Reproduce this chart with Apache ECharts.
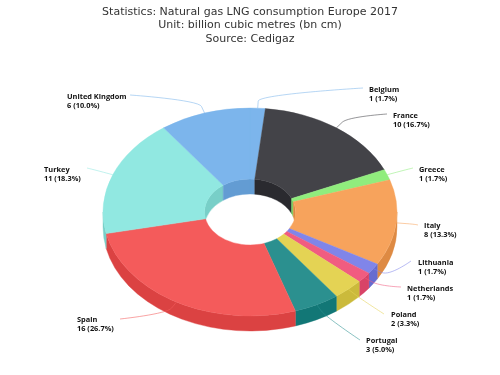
<!DOCTYPE html>
<html>
<head>
<meta charset="utf-8">
<style>
html, body { margin: 0; padding: 0; background: #fff; }
#chart { width: 500px; height: 375px; }
</style>
<script src="https://cdn.jsdelivr.net/npm/echarts@6/dist/echarts.min.js"></script>
</head>
<body>
<div id="chart"></div>
<script>
var title_text = 'Statistics: Natural gas LNG consumption Europe 2017\nUnit: billion cubic metres (bn cm)\nSource: Cedigaz';

var countries = ['Belgium', 'France', 'Greece', 'Italy', 'Lithuania', 'Netherlands', 'Poland', 'Portugal', 'Spain', 'Turkey', 'United Kingdom'];
var consumption = [1, 10, 1, 8, 1, 1, 2, 3, 16, 11, 6];
var colors = ['#7cb5ec', '#434348', '#90ed7d', '#f7a35c', '#8085e9', '#f15c80', '#e4d354', '#2b908f', '#f45b5b', '#91e8e1', '#7cb5ec'];
var side_colors = ['#639cd3', '#2a2a2f', '#77d464', '#de8a43', '#676cd0', '#d84367', '#cbba3b', '#127776', '#db4242', '#78cfc8', '#639cd3'];

// where each label block starts (left edge, middle of first line) and where its connector starts
var label_pos = [[369, 90], [393, 116], [419, 170], [424, 226], [418, 263], [407, 289], [391, 315], [366, 341], [77, 320], [44, 170], [67, 97]];
var connector_start = [[363, 88], [387, 114], [413, 168], [418, 225], [411, 261], [401, 287], [384, 314], [360, 340], [120, 319], [87, 168], [130, 95]];

// tilted ring, ECharts has no 3d pie so the ellipse is worked out here
var cx = 250, cy = 212, rx = 147, ry = 104, inner_rx = 45.5, inner_ry = 33, depth = 15;

var total = consumption.reduce(function (a, b) { return a + b; }, 0);
var start_angles = [];
var sum = 0;
for (var i = 0; i < consumption.length; i++) {
    start_angles[i] = sum / total * 360;
    sum += consumption[i];
}

function point(a, b, angle, dy) {
    var t = angle * Math.PI / 180;
    return [cx + a * Math.sin(t), cy - b * Math.cos(t) + dy];
}

function arc_to(a, b, p, sweep) {
    return 'A' + a + ' ' + b + ' 0 0 ' + sweep + ' ' + p[0] + ' ' + p[1];
}

function top_face(a0, a1) {
    var p0 = point(rx, ry, a0, 0), p1 = point(rx, ry, a1, 0);
    var q1 = point(inner_rx, inner_ry, a1, 0), q0 = point(inner_rx, inner_ry, a0, 0);
    return 'M' + p0.join(' ') + arc_to(rx, ry, p1, 1) + 'L' + q1.join(' ') + arc_to(inner_rx, inner_ry, q0, 0) + 'Z';
}

function wall(a, b, a0, a1) {
    var p0 = point(a, b, a0, 0), p1 = point(a, b, a1, 0);
    var q1 = point(a, b, a1, depth), q0 = point(a, b, a0, depth);
    return 'M' + p0.join(' ') + arc_to(a, b, p1, 1) + 'L' + q1.join(' ') + arc_to(a, b, q0, 0) + 'Z';
}

function render_slice(params) {
    var i = params.dataIndex;
    var a0 = start_angles[i];
    var a1 = a0 + consumption[i] / total * 360;
    var mid = (a0 + a1) / 2;
    var children = [];

    function add_wall(a, b, from, to) {
        if (to <= from) return;
        children.push({
            type: 'path',
            z2: 1,
            shape: { pathData: wall(a, b, from, to) },
            style: { fill: side_colors[i], stroke: side_colors[i], lineWidth: 0.4 }
        });
    }

    // outer side shows on the front half, inner side on the back half
    add_wall(rx, ry, Math.max(a0, 90), Math.min(a1, 270));
    add_wall(inner_rx, inner_ry, a0, Math.min(a1, 90));
    add_wall(inner_rx, inner_ry, Math.max(a0, 270), a1);

    children.push({
        type: 'path',
        z2: 2,
        shape: { pathData: top_face(a0, a1) },
        style: { fill: colors[i], stroke: colors[i], lineWidth: 0.4 }
    });

    var end = point(rx, ry, mid, 0);
    var elbow = point(rx + 10, ry + 7, mid, 0);
    var from = connector_start[i];
    children.push({
        type: 'path',
        z2: 3,
        shape: {
            pathData: 'M' + from.join(' ') +
                'C' + from.join(' ') + ' ' + (2 * elbow[0] - end[0]) + ' ' + (2 * elbow[1] - end[1]) + ' ' + elbow.join(' ') +
                'L' + end.join(' ')
        },
        style: { fill: 'none', stroke: colors[i], lineWidth: 0.7, opacity: 0.8 }
    });

    var pct = (consumption[i] / total * 100).toFixed(1);
    children.push({
        type: 'text',
        z2: 4,
        style: {
            x: label_pos[i][0],
            y: label_pos[i][1] - 5,
            text: countries[i] + '\n' + consumption[i] + ' (' + pct + '%)',
            fill: '#111',
            font: 'bold 7.4px "Open Sans"',
            lineHeight: 9,
            align: 'left',
            verticalAlign: 'top'
        }
    });

    return { type: 'group', children: children };
}

var chart = echarts.init(document.getElementById('chart'));
chart.setOption({
    animation: false,
    title: {
        text: title_text,
        left: 'center',
        top: 0,
        textStyle: {
            color: '#333',
            fontFamily: 'DejaVu Sans',
            fontWeight: 'normal',
            fontSize: 11,
            lineHeight: 13.5
        }
    },
    series: [{
        type: 'custom',
        coordinateSystem: 'none',
        silent: true,
        renderItem: render_slice,
        data: consumption
    }]
});
</script>
</body>
</html>
